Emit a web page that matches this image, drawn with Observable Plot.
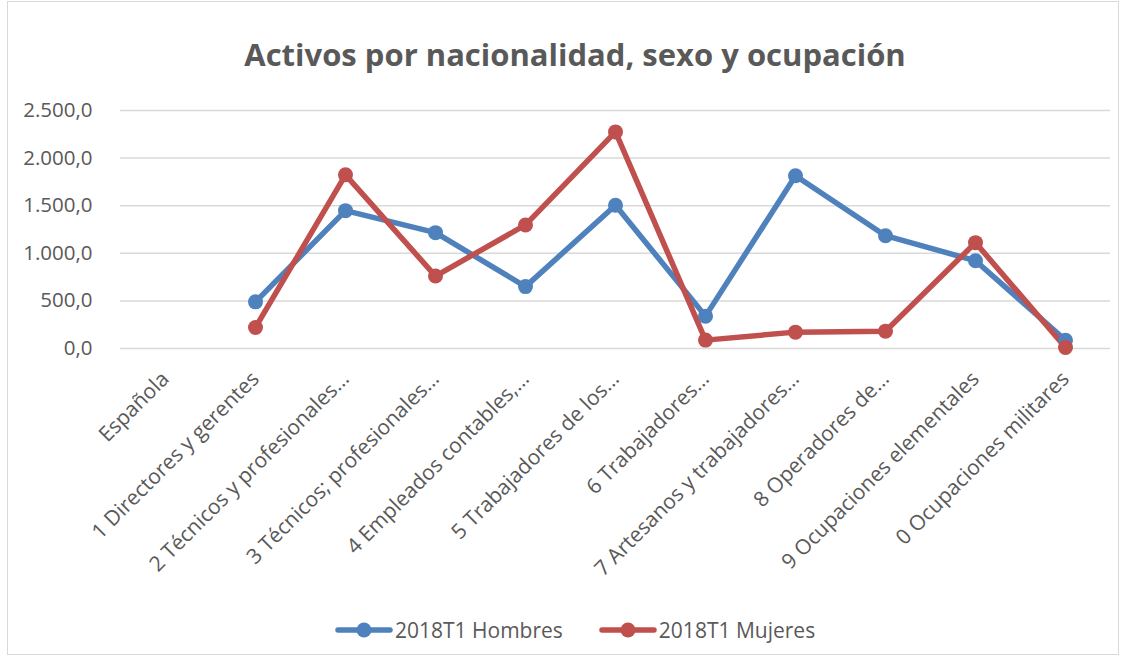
<!DOCTYPE html>
<html>
<head>
<meta charset="utf-8">
<script src="https://cdn.jsdelivr.net/npm/d3@7"></script>
<script src="https://cdn.jsdelivr.net/npm/@observablehq/plot@0.6"></script>
<style>
  html, body { margin: 0; padding: 0; background: #fff; }
  #wrap { position: relative; width: 1128px; height: 659px; font-family: "Open Sans", sans-serif; color: #595959; overflow: hidden; }
  #frame { position: absolute; left: 7px; top: 1px; width: 1112px; height: 654px; border: 1.5px solid #d9d9d9; box-sizing: border-box; }
  #title { position: absolute; left: 0; width: 1150px; top: 32px; text-align: center; font-size: 31px; line-height: 44px; font-weight: bold; color: #595959; }
  #chart { position: absolute; left: 0; top: 0; }
  #legend { position: absolute; left: 335px; top: 616px; display: flex; align-items: center; gap: 36px; font-size: 21px; color: #595959; }
  .item { display: flex; align-items: center; }
  .item svg { margin-right: 2px; }
</style>
</head>
<body>
<div id="wrap">
  <div id="frame"></div>
  <div id="title">Activos por nacionalidad, sexo y ocupación</div>
  <div id="chart"></div>
  <div id="legend"></div>
</div>
<script>
const categories = [
  "Española",
  "1 Directores y gerentes",
  "2 Técnicos y profesionales…",
  "3 Técnicos; profesionales…",
  "4 Empleados contables,…",
  "5 Trabajadores de los…",
  "6 Trabajadores…",
  "7 Artesanos y trabajadores…",
  "8 Operadores de…",
  "9 Ocupaciones elementales",
  "0 Ocupaciones militares"
];
const seriesNames = ["2018T1 Hombres", "2018T1 Mujeres"];
const hombres = [null, 490, 1448, 1217, 650, 1505, 340, 1814, 1185, 922, 87];
const mujeres = [null, 221, 1824, 761, 1298, 2275, 88, 172, 182, 1112, 10];
const yTicks = [0, 500, 1000, 1500, 2000, 2500];
const colors = ["#4F81BD", "#C0504D"];

const data = [];
categories.forEach((c, i) => {
  data.push({cat: c, series: seriesNames[0], value: hombres[i]});
});
categories.forEach((c, i) => {
  data.push({cat: c, series: seriesNames[1], value: mujeres[i]});
});
const valid = data.filter(d => d.value != null);

const esLocale = d3.formatLocale({decimal: ",", thousands: ".", grouping: [3], currency: ["", " €"]});
const fmt = esLocale.format(",.1f");

const plot = Plot.plot({
  width: 1128,
  height: 600,
  marginLeft: 120,
  marginRight: 18,
  marginTop: 110,
  marginBottom: 252,
  style: {fontFamily: "Open Sans, sans-serif", fontSize: "20px", color: "#595959", background: "transparent", overflow: "visible"},
  x: {type: "point", domain: categories, padding: 0.5, label: null},
  y: {domain: [0, 2500], label: null},
  color: {domain: seriesNames, range: colors},
  marks: [
    Plot.gridY(yTicks, {stroke: "#d9d9d9", strokeOpacity: 1, strokeWidth: 1.5}),
    Plot.axisY(yTicks, {tickSize: 0, tickPadding: 28, tickFormat: fmt, fill: "#595959", fontSize: 20.5}),
    Plot.axisX({tickSize: 0, tickPadding: 27, tickRotate: -45, fill: "#595959", fontSize: 21}),
    Plot.lineY(data, {x: "cat", y: "value", z: "series", stroke: "series", strokeWidth: 5.5, strokeLinejoin: "round", strokeLinecap: "round"}),
    Plot.dot(valid, {x: "cat", y: "value", fill: "series", r: 7.5, stroke: "none"})
  ]
});
document.getElementById("chart").appendChild(plot);

const legend = document.getElementById("legend");
seriesNames.forEach((s, i) => {
  const item = document.createElement("div");
  item.className = "item";
  item.innerHTML = `<svg width="58" height="20"><line x1="3" y1="10" x2="55" y2="10" stroke="${colors[i]}" stroke-width="5.5" stroke-linecap="round"/><circle cx="29" cy="10" r="7.5" fill="${colors[i]}"/></svg><span>${s}</span>`;
  legend.appendChild(item);
});
</script>
</body>
</html>
